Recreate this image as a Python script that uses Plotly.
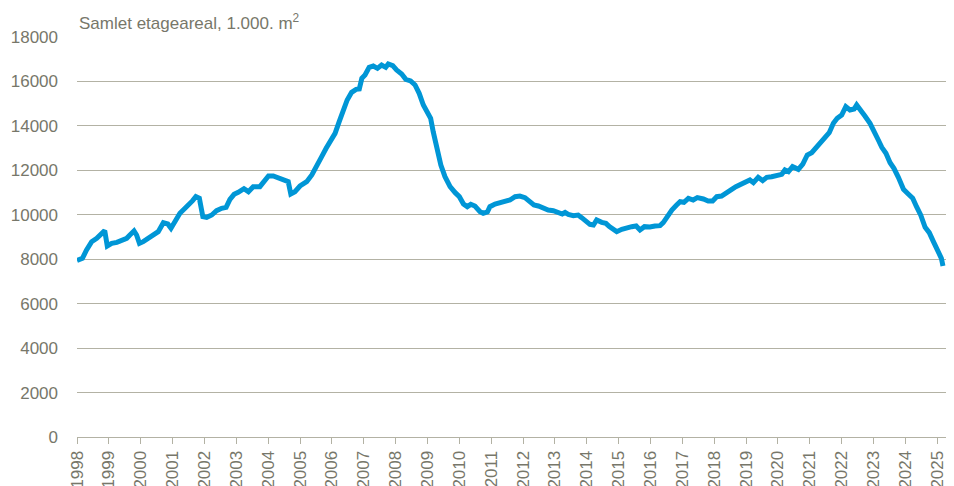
import plotly.graph_objects as go

# Decimal year positions and values (1.000 m2)
years = [
    1998.00, 1998.17, 1998.30, 1998.46, 1998.62, 1998.74, 1998.87, 1998.95,
    1999.09, 1999.25, 1999.40, 1999.56, 1999.66, 1999.79, 1999.87, 1999.96,
    2000.08, 2000.24, 2000.40, 2000.55, 2000.71, 2000.85, 2000.95,
    2001.11, 2001.23, 2001.39, 2001.52, 2001.63, 2001.73, 2001.84, 2001.95,
    2002.07, 2002.23, 2002.38, 2002.54, 2002.68, 2002.80, 2002.93,
    2003.06, 2003.24, 2003.38, 2003.53, 2003.74, 2003.87,
    2004.01, 2004.16, 2004.37, 2004.53, 2004.63, 2004.71, 2004.84,
    2005.00, 2005.21, 2005.37, 2005.52, 2005.68, 2005.82, 2005.96,
    2006.10, 2006.23, 2006.36, 2006.48, 2006.62, 2006.76, 2006.86, 2006.94,
    2007.04, 2007.17, 2007.30, 2007.43, 2007.56, 2007.69, 2007.77, 2007.91,
    2008.03, 2008.19, 2008.32, 2008.47, 2008.61, 2008.74, 2008.87,
    2009.00, 2009.10, 2009.18, 2009.29, 2009.42, 2009.55, 2009.71, 2009.87,
    2010.00, 2010.13, 2010.25, 2010.36, 2010.49, 2010.65, 2010.75, 2010.88, 2010.96,
    2011.12, 2011.28, 2011.43, 2011.59, 2011.75, 2011.90,
    2012.06, 2012.22, 2012.34, 2012.48, 2012.64, 2012.79, 2012.95,
    2013.11, 2013.23, 2013.32, 2013.42, 2013.58, 2013.73, 2013.84, 2013.98,
    2014.10, 2014.21, 2014.31, 2014.47, 2014.60, 2014.71, 2014.83, 2014.94,
    2015.10, 2015.25, 2015.41, 2015.55, 2015.67, 2015.81, 2015.98,
    2016.14, 2016.30, 2016.40, 2016.53, 2016.67, 2016.82, 2016.93,
    2017.05, 2017.19, 2017.34, 2017.47, 2017.66, 2017.81, 2017.95,
    2018.08, 2018.23, 2018.39, 2018.55, 2018.68, 2018.84,
    2019.00, 2019.12, 2019.23, 2019.38, 2019.52, 2019.65, 2019.80, 2019.96,
    2020.12, 2020.22, 2020.33, 2020.46, 2020.64, 2020.78, 2020.92,
    2021.06, 2021.22, 2021.34, 2021.48, 2021.61, 2021.74, 2021.86,
    2022.00, 2022.13, 2022.26, 2022.39, 2022.47, 2022.60, 2022.73, 2022.89,
    2023.02, 2023.15, 2023.26, 2023.39, 2023.52, 2023.64, 2023.78, 2023.94,
    2024.09, 2024.23, 2024.35, 2024.48, 2024.62, 2024.75, 2024.88,
    2025.00, 2025.13, 2025.18,
]

etageareal = [
    7940, 8040, 8415, 8790, 8940, 9090, 9285, 8595,
    8715, 8760, 8865, 8940, 9090, 9270, 9090, 8715,
    8790, 8940, 9045, 9240, 9645, 9585, 9390,
    9765, 10065, 10290, 10440, 10635, 10815, 10740, 9915,
    9885, 9990, 10185, 10290, 10335, 10695, 10920,
    11010, 11175, 11040, 11265, 11265, 11490,
    11745, 11745, 11640, 11520, 11490, 10935, 11040,
    11295, 11490, 11790, 12240, 12615, 12990, 13365,
    13665, 14190, 14745, 15165, 15510, 15645, 15660, 16140,
    16290, 16635, 16695, 16590, 16740, 16635, 16785, 16710,
    16515, 16335, 16095, 16020, 15840, 15465, 14940,
    14595, 14340, 13740, 12990, 12240, 11715, 11265, 10995,
    10815, 10485, 10365, 10470, 10395, 10140, 10065, 10125, 10365,
    10485, 10545, 10560, 10665, 10815, 10845,
    10770, 10590, 10440, 10395, 10275, 10215, 10185,
    10095, 10035, 10110, 10020, 9960, 9990, 9870, 9735,
    9570, 9540, 9765, 9660, 9615, 9465, 9315, 9240,
    9345, 9420, 9465, 9495, 9315, 9465, 9450,
    9495, 9510, 9645, 9945, 10215, 10440, 10590,
    10560, 10740, 10665, 10770, 10710, 10620, 10620,
    10815, 10845, 10965, 11145, 11265, 11370,
    11445, 11565, 11445, 11685, 11535, 11685, 11715, 11790,
    11820, 12015, 11940, 12165, 12045, 12285, 12690,
    12795, 13035, 13290, 13485, 13695, 14115, 14340,
    14490, 14865, 14715, 14760, 14940, 14640, 14445, 14115,
    13785, 13365, 13035, 12765, 12345, 12090, 11685, 11145,
    10935, 10740, 10365, 9990, 9435, 9195, 8790,
    8415, 8040, 7700,
]

tick_years = list(range(1998, 2026))
tick_labels = [str(y) for y in tick_years]
y_ticks = list(range(0, 18001, 2000))

title_text = "Samlet etageareal, 1.000. m<sup>2</sup>"

TEXT = "#77776a"
GRID = "#b3b2a4"
FONT = "Liberation Sans, Arial, sans-serif"

fig = go.Figure()
fig.add_trace(go.Scatter(
    x=years, y=etageareal, mode="lines",
    line=dict(color="#0096d6", width=5, shape="linear"),
    hoverinfo="skip", showlegend=False,
))

# The page body adds an 8px offset, so the figure is 8px smaller than the window
fig.update_layout(
    width=946, height=478,
    margin=dict(l=69, r=8, t=29, b=49),
    paper_bgcolor="white", plot_bgcolor="white",
    font=dict(family=FONT, size=17, color=TEXT),
    xaxis=dict(
        range=[1998, 2025.275], automargin=False,
        tickmode="array", tickvals=tick_years, ticktext=tick_labels,
        tickangle=-90, ticks="outside", ticklen=6, tickcolor=GRID, tickwidth=1,
        showline=True, linecolor=GRID, linewidth=1,
        showgrid=False, zeroline=False,
        tickfont=dict(family=FONT, size=17, color=TEXT),
    ),
    yaxis=dict(
        range=[0, 18000], automargin=False,
        tickmode="array", tickvals=y_ticks, ticktext=[str(v) for v in y_ticks],
        showgrid=True, gridcolor=GRID, gridwidth=1,
        zeroline=False, showline=False, ticks="",
        ticklabelstandoff=18,
        tickfont=dict(family=FONT, size=17, color=TEXT),
    ),
    annotations=[dict(
        text=title_text, xref="paper", yref="paper",
        x=0, y=1, xanchor="left", yanchor="bottom",
        xshift=0, yshift=2, showarrow=False,
        font=dict(family=FONT, size=17, color=TEXT),
    )],
)

fig.write_html("out.html")
